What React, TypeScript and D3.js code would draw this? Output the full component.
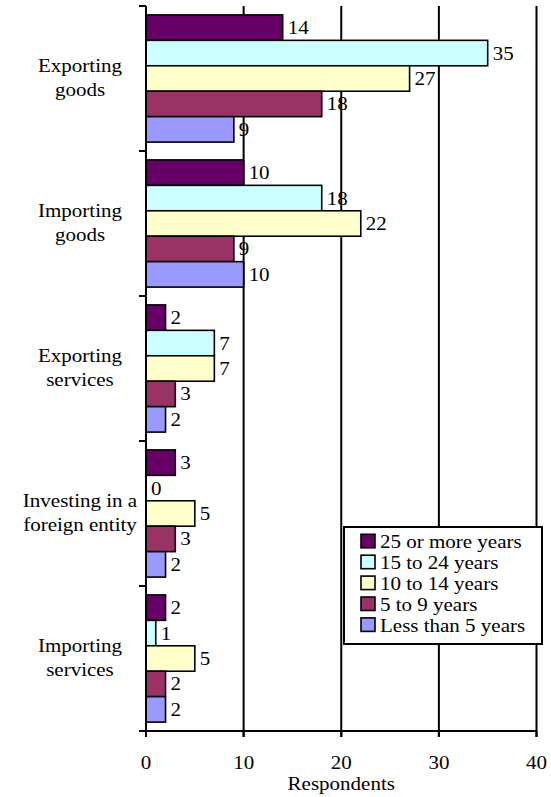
import React from "react";
import * as d3 from "d3";

const categories = [
  ["Exporting", "goods"],
  ["Importing", "goods"],
  ["Exporting", "services"],
  ["Investing in a", "foreign entity"],
  ["Importing", "services"],
];
const seriesNames = [
  "25 or more years",
  "15 to 24 years",
  "10 to 14 years",
  "5 to 9 years",
  "Less than 5 years",
];
const seriesColors = ["#660066", "#CCFFFF", "#FFFFCC", "#993366", "#9999FF"];
const values = [
  [14, 35, 27, 18, 9],
  [10, 18, 22, 9, 10],
  [2, 7, 7, 3, 2],
  [3, 0, 5, 3, 2],
  [2, 1, 5, 2, 2],
];
const xTicks = [0, 10, 20, 30, 40];
const xTitle = "Respondents";

const FONT = "Liberation Serif";
const FS = 18;
const SX = 21 / 18;

function T(props: { x: number; y: number; anchor?: string; children: React.ReactNode }) {
  return (
    <text
      transform={`translate(${props.x},${props.y}) scale(${SX},1)`}
      textAnchor={props.anchor || "start"}
      style={{ fontFamily: FONT, fontSize: FS + "px" }}
      fill="#000"
    >
      {props.children}
    </text>
  );
}

export default function App() {
  const W = 551, H = 797;
  const left = 146, right = 536.5, top = 6, bottom = 731;
  const x = d3.scaleLinear().domain([0, 40]).range([left, right]);
  const y0 = d3.scaleBand<number>().domain(categories.map((_, i) => i)).range([top, bottom]).paddingInner(0).paddingOuter(0);
  const y1 = d3.scaleBand<number>().domain(seriesNames.map((_, i) => i)).range([0, y0.bandwidth()]).paddingInner(0).paddingOuter(0.35);
  const tickYs = categories.map((_, i) => y0(i)!).concat([bottom]);

  return (
    <svg width={W} height={H} style={{ position: "absolute", left: 0, top: 0, background: "#fff" }}>
      <rect x={0} y={0} width={W} height={H} fill="#fff" />
      {xTicks.filter((t) => t > 0).map((t) => (
        <line key={"g" + t} x1={x(t)} x2={x(t)} y1={top} y2={bottom + 6} stroke="#000" strokeWidth={2} />
      ))}
      {values.map((row, ci) => (
        <g key={"c" + ci}>
          {row.map((v, si) => {
            const by = y0(ci)! + y1(si)!;
            return (
              <g key={"b" + si}>
                <rect x={x(0)} y={by} width={x(v) - x(0)} height={y1.bandwidth()} fill={seriesColors[si]} stroke="#000" strokeWidth={1.6} />
                <T x={x(v) + 5} y={by + y1.bandwidth() / 2 + 6.5}>{v}</T>
              </g>
            );
          })}
        </g>
      ))}
      <line x1={left} x2={left} y1={top} y2={bottom} stroke="#000" strokeWidth={2} />
      {tickYs.map((ty, i) => (
        <line key={"yt" + i} x1={left - 7} x2={left} y1={ty} y2={ty} stroke="#000" strokeWidth={2} />
      ))}
      <line x1={left} x2={right} y1={bottom} y2={bottom} stroke="#000" strokeWidth={2} />
      {xTicks.map((t) => (
        <g key={"xt" + t}>
          <line x1={x(t)} x2={x(t)} y1={bottom} y2={bottom + 6} stroke="#000" strokeWidth={2} />
          <T x={x(t)} y={769} anchor="middle">{t}</T>
        </g>
      ))}
      <T x={(left + right) / 2} y={790} anchor="middle">{xTitle}</T>
      {categories.map((lines, i) => {
        const cy = y0(i)! + y0.bandwidth() / 2;
        return (
          <g key={"cl" + i}>
            <T x={80} y={cy - 7} anchor="middle">{lines[0]}</T>
            <T x={80} y={cy + 17} anchor="middle">{lines[1]}</T>
          </g>
        );
      })}
      <g>
        <rect x={344} y={527} width={198} height={117} fill="#fff" stroke="#000" strokeWidth={2} />
        {seriesNames.map((n, i) => {
          const ly = 548.3 + i * 20.9;
          return (
            <g key={"l" + i}>
              <rect x={361} y={ly - 14} width={14} height={13.5} fill={seriesColors[i]} stroke="#000" strokeWidth={1.6} />
              <T x={380} y={ly}>{n}</T>
            </g>
          );
        })}
      </g>
    </svg>
  );
}
